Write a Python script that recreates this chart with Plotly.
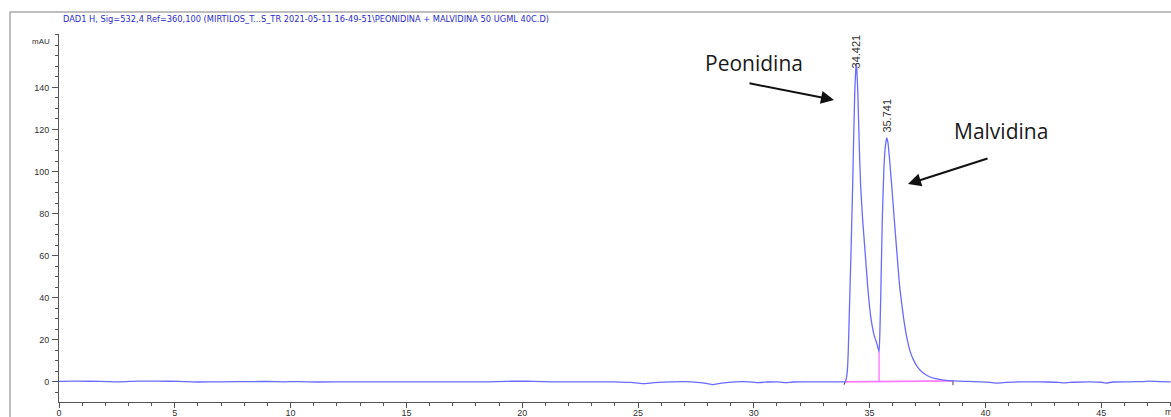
import plotly.graph_objects as go

# ---- chromatogram signal (retention time in min, absorbance in mAU) ----
before_t = [0.0, 0.8, 1.8, 2.6, 3.4, 4.3, 5.2, 6.0, 7.0, 8.4, 9.0, 9.7, 10.3, 11.2, 12.5, 14.0,
            15.5, 17.0, 18.5, 19.3, 19.8, 20.5, 21.3, 22.0, 23.0, 24.0, 24.7, 25.2, 25.7, 26.5,
            27.3, 27.8, 28.2, 28.6, 29.2, 29.8, 30.1, 30.6, 31.0, 31.3, 31.7, 32.5, 33.3, 33.8]
before_mau = [0.2, 0.3, 0.2, 0.0, 0.3, 0.3, 0.2, -0.1, 0.0, 0.1, 0.2, 0.0, 0.1, -0.1, 0.0, 0.0,
              0.0, 0.0, 0.0, 0.2, 0.3, 0.2, 0.0, 0.0, 0.0, 0.0, -0.3, -0.9, -0.4, 0.0,
              0.0, -0.5, -1.3, -0.6, 0.0, 0.0, -0.4, -0.1, 0.0, -0.4, -0.1, 0.0, 0.0, 0.0]

peaks_t = [33.94, 34.01, 34.05, 34.08, 34.12, 34.16, 34.20, 34.27, 34.30, 34.36, 34.40, 34.421,
           34.45, 34.49, 34.56, 34.61, 34.70, 34.80, 34.92, 35.05, 35.20, 35.31, 35.37, 35.41,
           35.44, 35.48, 35.55, 35.62, 35.68, 35.741, 35.79, 35.86, 35.95, 36.06, 36.17, 36.30,
           36.46, 36.60, 36.75, 36.90, 37.05, 37.25, 37.50, 37.80, 38.2, 38.6]
peaks_mau = [0.0, 2.5, 7.1, 15.0, 30.9, 47.0, 62.6, 94.0, 110.0, 138.0, 148.0, 151.0,
             148.0, 138.0, 110.0, 94.0, 77.0, 62.6, 45.0, 30.9, 22.0, 18.3, 15.8, 14.3,
             22.0, 40.0, 78.0, 102.0, 112.0, 116.0, 114.0, 106.0, 94.0, 78.0, 62.6, 45.0,
             30.9, 21.5, 14.5, 10.3, 7.3, 4.8, 2.9, 1.6, 0.8, 0.4]

after_t = [39.2, 39.8, 40.2, 40.5, 40.9, 41.5, 42.3, 43.0, 43.4, 43.8, 44.5, 45.0, 45.2,
           45.5, 46.2, 46.8, 47.1, 47.5, 48.0]
after_mau = [0.2, 0.0, -0.3, -0.6, -0.3, 0.0, 0.0, -0.2, -0.5, -0.2, 0.0, -0.2, -0.6,
             -0.1, 0.0, 0.1, 0.3, 0.1, 0.0]

# integrated peaks: apex retention times and heights
peak_rt = [34.421, 35.741]
peak_height = [151.0, 116.0]
peak_names = ["Peonidina", "Malvidina"]

# integration baseline and peak-split drop line
base_t = [33.94, 38.6]
base_mau = [0.0, 0.4]
drop_t = [35.41, 35.41]
drop_mau = [0.2, 14.3]
# integration start / stop tick marks
mark_start_t = [33.90, 33.94]
mark_start_mau = [-1.4, 0.0]
mark_stop_t = [38.6, 38.6]
mark_stop_mau = [0.4, -1.6]

title_text = ("DAD1 H, Sig=532,4 Ref=360,100 (MIRTILOS_T...S_TR 2021-05-11 "
              "16-49-51\\PEONIDINA + MALVIDINA 50 UGML 40C.D)")

x_ticks = [0, 5, 10, 15, 20, 25, 30, 35, 40, 45]
y_ticks = [0, 20, 40, 60, 80, 100, 120, 140]

# ---- geometry ----
W, H = 1171, 417
L, R, T, B = 59, 0, 34, 15
plot_w = W - L - R
plot_h = H - T - B


def px_x(p):
    return (p - L) / plot_w


def px_y(p):
    return (H - B - p) / plot_h


rt = before_t + peaks_t + after_t
mau = before_mau + peaks_mau + after_mau

fig = go.Figure()

fig.add_trace(go.Scatter(x=base_t, y=base_mau, mode="lines",
                         line=dict(color="#ff7cff", width=1.8), hoverinfo="skip"))
fig.add_trace(go.Scatter(x=drop_t, y=drop_mau, mode="lines",
                         line=dict(color="#ff7cff", width=1.4), hoverinfo="skip"))
for mt, mv in ((mark_start_t, mark_start_mau), (mark_stop_t, mark_stop_mau)):
    fig.add_trace(go.Scatter(x=mt, y=mv, mode="lines",
                             line=dict(color="#444444", width=1), hoverinfo="skip"))
fig.add_trace(go.Scatter(x=rt, y=mau, mode="lines",
                         line=dict(color="#6a6aff", width=1.3, shape="spline", smoothing=0.4)))

# retention-time labels on the apexes
label_shift = [-6, 3]
for t, h, s in zip(peak_rt, peak_height, label_shift):
    fig.add_annotation(x=t, y=h, text=f"{t:.3f}", textangle=-90, showarrow=False,
                       xanchor="center", yanchor="bottom", yshift=s,
                       font=dict(family="Liberation Sans, Arial", size=11, color="#333333"))

# compound names with arrows
name_font = dict(family="Open Sans", size=21, color="#1a1a1a")
fig.add_annotation(x=px_x(754), y=px_y(63), xref="paper", yref="paper", text=peak_names[0],
                   showarrow=False, xanchor="center", yanchor="middle", font=name_font)
fig.add_annotation(x=px_x(1001), y=px_y(131), xref="paper", yref="paper", text=peak_names[1],
                   showarrow=False, xanchor="center", yanchor="middle", font=name_font)
fig.add_annotation(x=px_x(834), y=px_y(100), xref="paper", yref="paper", text="",
                   showarrow=True, arrowhead=2, arrowsize=1.3, arrowwidth=2, arrowcolor="#111111",
                   ax=-86, ay=-17)
fig.add_annotation(x=px_x(908), y=px_y(184), xref="paper", yref="paper", text="",
                   showarrow=True, arrowhead=2, arrowsize=1.3, arrowwidth=2, arrowcolor="#111111",
                   ax=81, ay=-26)

# header and units
fig.add_annotation(x=px_x(61), y=px_y(18), xref="paper", yref="paper", text=title_text,
                   showarrow=False, xanchor="left", yanchor="middle",
                   font=dict(family="DejaVu Sans Condensed, Liberation Sans, Arial",
                             size=9.2, color="#2b2bcc"))
fig.add_annotation(x=px_x(52), y=px_y(42), xref="paper", yref="paper", text="mAU",
                   showarrow=False, xanchor="right", yanchor="middle",
                   font=dict(family="Liberation Sans, Arial", size=8, color="#333333"))
fig.add_annotation(x=px_x(1163), y=px_y(412), xref="paper", yref="paper", text="min",
                   showarrow=False, xanchor="left", yanchor="middle",
                   font=dict(family="Liberation Sans, Arial", size=9, color="#333333"))

# outer frame
fig.add_shape(type="line", xref="paper", yref="paper", x0=px_x(10), x1=px_x(10),
              y0=px_y(12), y1=px_y(420), line=dict(color="#a8a8a8", width=1.5))
fig.add_shape(type="line", xref="paper", yref="paper", x0=px_x(10), x1=px_x(1175),
              y0=px_y(12), y1=px_y(12), line=dict(color="#a8a8a8", width=1.5))

axis_font = dict(family="Liberation Sans, Arial", size=9, color="#333333")
fig.update_xaxes(range=[0, plot_w / 23.16], tickvals=x_ticks, ticks="outside", ticklen=5,
                 tickcolor="#555555", showline=True, linecolor="#555555", linewidth=1,
                 showgrid=False, zeroline=False, tickfont=axis_font, ticklabelstandoff=-3,
                 automargin=False,
                 minor=dict(dtick=1, ticks="outside", ticklen=3, tickcolor="#555555"))
fig.update_yaxes(range=[-9.6, -9.6 + plot_h / 2.103], tickvals=y_ticks, ticks="outside",
                 ticklen=6, tickcolor="#555555", showline=True, linecolor="#555555",
                 linewidth=1, showgrid=False, zeroline=False, tickfont=axis_font,
                 ticklabelstandoff=1, automargin=False,
                 minor=dict(dtick=5, ticks="outside", ticklen=3, tickcolor="#555555"))

fig.update_layout(width=W, height=H, margin=dict(l=L, r=R, t=T, b=B, autoexpand=False),
                  paper_bgcolor="white", plot_bgcolor="white", showlegend=False)

fig.write_html("out.html")
